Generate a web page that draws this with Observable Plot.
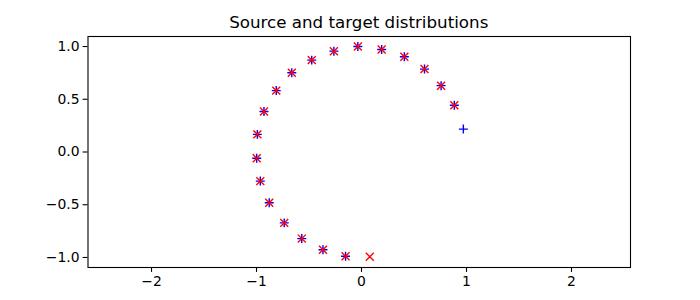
<!DOCTYPE html>
<html>
<head>
<meta charset="utf-8">
<script src="https://cdn.jsdelivr.net/npm/d3@7"></script>
<script src="https://cdn.jsdelivr.net/npm/@observablehq/plot@0.6"></script>
<style>
  html, body { margin: 0; padding: 0; background: #fff; }
  #wrap { width: 700px; height: 300px; position: relative; overflow: hidden; }
  #title { position: relative; height: 30px; box-sizing: border-box; padding-top: 12px;
           font-family: "DejaVu Sans", sans-serif; font-size: 16.7px; line-height: 20px;
           color: #000; white-space: nowrap; }
  #title span { position: absolute; left: 358.75px; transform: translateX(-50%); }
  svg { display: block; }
</style>
</head>
<body>
<div id="wrap">
  <div id="title"><span>Source and target distributions</span></div>
  <div id="chart"></div>
</div>
<script>
const titleText = "Source and target distributions";

// Source distribution (blue "+")
const sourceX = [0.970, 0.884, 0.758, 0.600, 0.408, 0.192, -0.035, -0.263, -0.474, -0.664,
                 -0.812, -0.929, -0.992, -0.998, -0.964, -0.879, -0.736, -0.569, -0.367, -0.152];
const sourceY = [0.217, 0.443, 0.629, 0.786, 0.903, 0.972, 1.000, 0.956, 0.871, 0.752,
                 0.582, 0.384, 0.167, -0.059, -0.276, -0.481, -0.672, -0.821, -0.927, -0.988];

// Target distribution (red "x")
const targetX = [0.884, 0.758, 0.600, 0.408, 0.192, -0.035, -0.263, -0.474, -0.664, -0.812,
                 -0.929, -0.992, -0.998, -0.964, -0.879, -0.736, -0.569, -0.367, -0.152, 0.079];
const targetY = [0.443, 0.629, 0.786, 0.903, 0.972, 1.000, 0.956, 0.871, 0.752, 0.582,
                 0.384, 0.167, -0.059, -0.276, -0.481, -0.672, -0.821, -0.927, -0.988, -0.993];

const xTicks = [-2, -1, 0, 1, 2];
const yTicks = [-1.0, -0.5, 0.0, 0.5, 1.0];

const source = sourceX.map((x, i) => ({x, y: sourceY[i]}));
const target = targetX.map((x, i) => ({x, y: targetY[i]}));

const minus = s => s.replace("-", "\u2212");

const chart = Plot.plot({
  width: 700,
  height: 270,
  marginTop: 6,
  marginBottom: 33,
  marginLeft: 87.5,
  marginRight: 70,
  style: {fontFamily: "DejaVu Sans, sans-serif", fontSize: "13.9px", color: "#000", background: "#fff"},
  x: {domain: [-2.605, 2.562], ticks: xTicks, tickFormat: d => minus(String(d)), label: null},
  y: {domain: [-1.095, 1.095], ticks: yTicks, tickFormat: d => minus(d.toFixed(1)), label: null},
  marks: [
    Plot.axisX({ticks: xTicks, tickFormat: d => minus(String(d)), tickSize: 4.9, tickPadding: 3.5,
                strokeWidth: 1.1, fontSize: 13.9, label: null}),
    Plot.axisY({ticks: yTicks, tickFormat: d => minus(d.toFixed(1)), tickSize: 4.9, tickPadding: 3.5,
                strokeWidth: 1.1, fontSize: 13.9, label: null}),
    Plot.dot(source, {x: "x", y: "y", symbol: "plus", r: 3.0, stroke: "#0000ff", strokeWidth: 1.4}),
    Plot.dot(target, {x: "x", y: "y", symbol: "times", r: 3.7, stroke: "#ff0000", strokeWidth: 1.4}),
    Plot.frame({stroke: "#000", strokeWidth: 1.1})
  ]
});
document.getElementById("chart").appendChild(chart);
</script>
</body>
</html>
